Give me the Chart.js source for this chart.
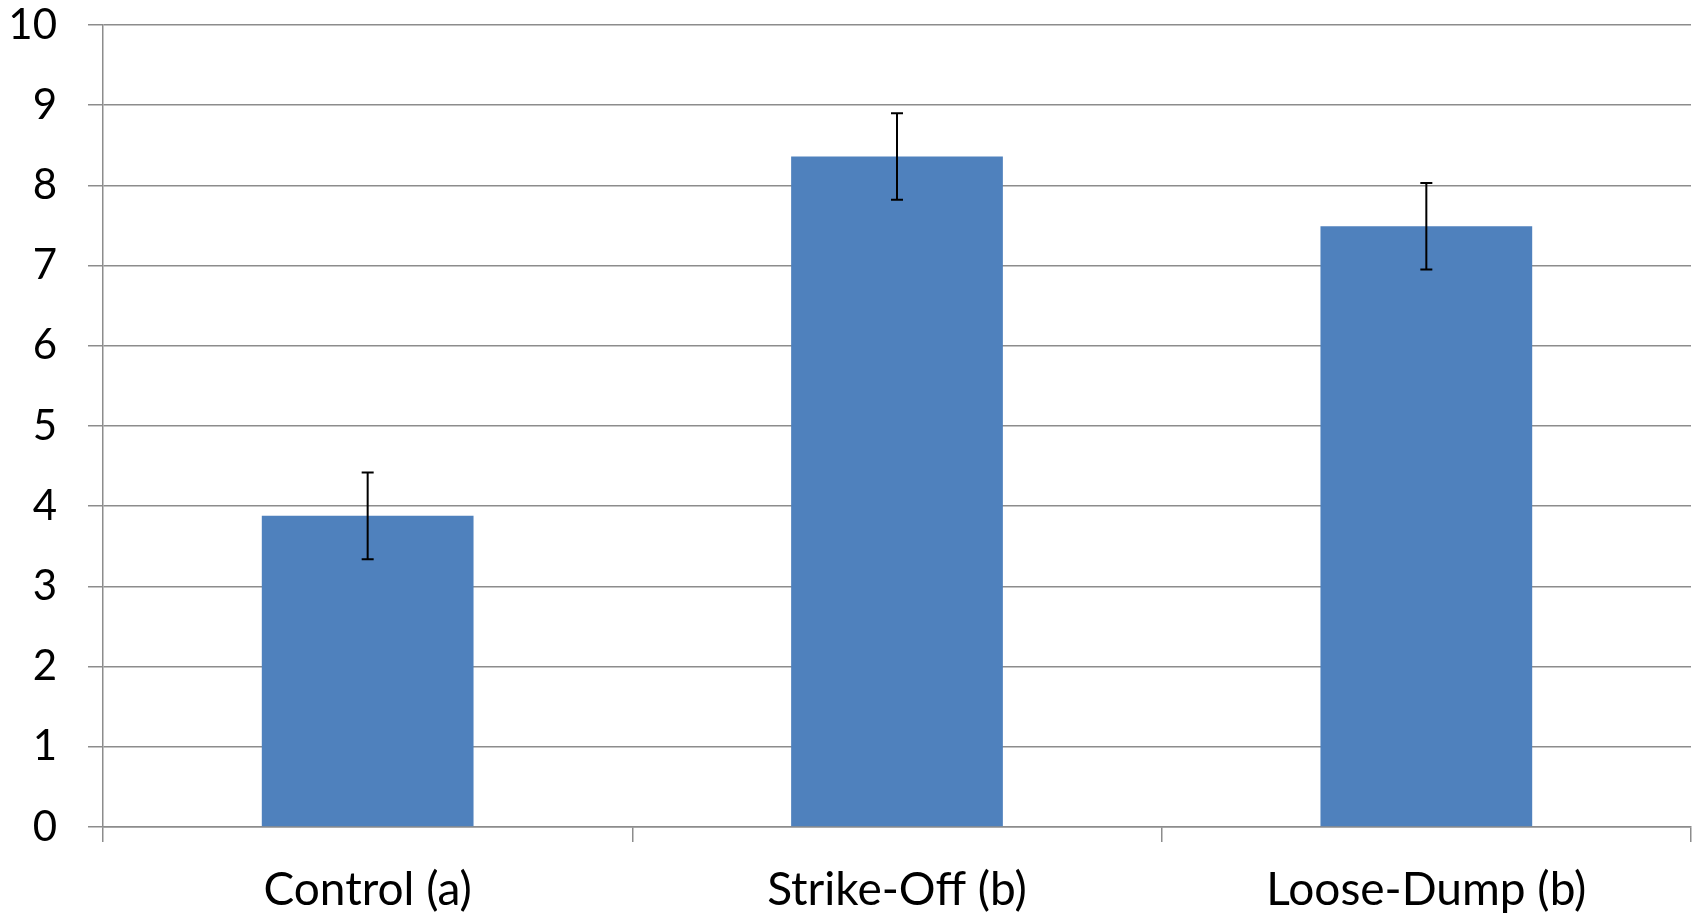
<!DOCTYPE html>
<html lang="en">
<head>
  <meta charset="UTF-8" />
  <title>Bar chart with error bars</title>
  <script src="https://cdn.jsdelivr.net/npm/chart.js"></script>
  <style>
    body { margin: 0; background: #fff; }
    #wrap { width: 1705px; height: 914px; }
  </style>
</head>
<body>
  <div id="wrap"><canvas id="graph" width="1705" height="914"></canvas></div>

  <script>
    // data
    const categories = ['Control (a)', 'Strike-Off (b)', 'Loose-Dump (b)'];
    const means = [3.88, 8.36, 7.49];
    const errors = [0.54, 0.54, 0.54];
    const yTicks = [0, 1, 2, 3, 4, 5, 6, 7, 8, 9, 10];

    const fontFamily = 'Lato, "Open Sans", sans-serif';
    const gridColor = '#8c8c8c';

    // draws the +/- error whiskers on top of each bar
    const errorBars = {
      id: 'errorBars',
      afterDatasetsDraw(chart) {
        const ctx = chart.ctx;
        const y = chart.scales.y;
        const meta = chart.getDatasetMeta(0);
        ctx.save();
        ctx.strokeStyle = '#000';
        ctx.lineWidth = 2;
        meta.data.forEach((bar, i) => {
          const top = y.getPixelForValue(means[i] + errors[i]);
          const bot = y.getPixelForValue(means[i] - errors[i]);
          ctx.beginPath();
          ctx.moveTo(bar.x, top);
          ctx.lineTo(bar.x, bot);
          ctx.moveTo(bar.x - 6, top);
          ctx.lineTo(bar.x + 6, top);
          ctx.moveTo(bar.x - 6, bot);
          ctx.lineTo(bar.x + 6, bot);
          ctx.stroke();
        });
        ctx.restore();
      }
    };

    const ctx = document.getElementById('graph').getContext('2d');

    const chart = new Chart(ctx, {
      type: 'bar',
      data: {
        labels: categories,
        datasets: [{
          data: means,
          backgroundColor: '#4f81bd',
          borderWidth: 0,
          barPercentage: 0.4,
          categoryPercentage: 1
        }]
      },
      options: {
        responsive: false,
        animation: false,
        devicePixelRatio: 1,
        layout: { padding: { top: 25, right: 14, left: 0, bottom: 0 } },
        plugins: {
          legend: { display: false },
          tooltip: { enabled: false }
        },
        scales: {
          x: {
            grid: {
              offset: true,
              drawOnChartArea: false,
              drawTicks: true,
              tickLength: 15,
              color: gridColor,
              lineWidth: 1.5
            },
            border: { color: gridColor, width: 1.5 },
            ticks: {
              color: '#000',
              padding: 21,
              font: { family: fontFamily, size: 46 }
            },
            afterFit(scale) {
              scale.height = 87;
              scale.paddingLeft = 0;
              scale.paddingRight = 0;
            }
          },
          y: {
            min: 0,
            max: 10,
            afterBuildTicks(scale) {
              scale.ticks = yTicks.map(v => ({ value: v }));
            },
            grid: {
              color: gridColor,
              lineWidth: 1.5,
              tickLength: 15
            },
            border: { color: gridColor, width: 1.5 },
            ticks: {
              color: '#000',
              padding: 31,
              font: { family: fontFamily, size: 42, lineHeight: 1.15 }
            },
            afterFit(scale) {
              scale.width = 103;
              scale.paddingTop = 0;
              scale.paddingBottom = 0;
            }
          }
        }
      },
      plugins: [errorBars]
    });
  </script>
</body>
</html>
